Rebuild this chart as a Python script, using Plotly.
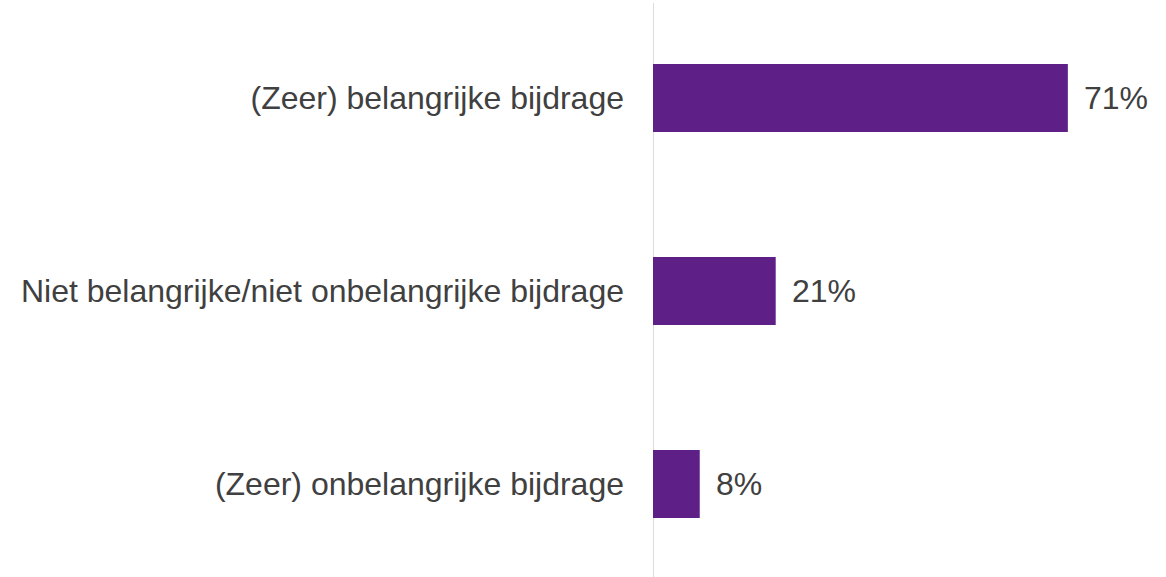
import plotly.graph_objects as go

categories = ["(Zeer) belangrijke bijdrage",
              "Niet belangrijke/niet onbelangrijke bijdrage",
              "(Zeer) onbelangrijke bijdrage"]
values = [71, 21, 8]
labels = ["71%", "21%", "8%"]

FONT = "Liberation Sans, Arial, sans-serif"
TXT = "#404040"

fig = go.Figure()
fig.add_trace(go.Bar(
    x=values, y=categories, orientation="h",
    marker=dict(color="#5E1F86", line=dict(width=0)),
    hoverinfo="skip",
))
for c, v, t in zip(categories, values, labels):
    fig.add_annotation(x=v, y=c, text=t, showarrow=False, xanchor="left",
                       xshift=14, font=dict(family=FONT, size=32, color=TXT))

fig.update_layout(
    width=1166, height=577,
    margin=dict(l=653, r=0, t=0, b=0, autoexpand=False),
    paper_bgcolor="white", plot_bgcolor="white",
    bargap=0.648, showlegend=False,
    font=dict(family=FONT, size=32, color=TXT),
    xaxis=dict(range=[0, 87.8], visible=False, fixedrange=True, automargin=False),
    yaxis=dict(range=[2.482, -0.508], showgrid=False, zeroline=False,
               showline=False, ticks="", ticklabelstandoff=28, automargin=False,
               fixedrange=True, tickfont=dict(family=FONT, size=32, color=TXT)),
    shapes=[dict(type="line", xref="x", yref="paper", x0=0, x1=0, y0=0, y1=0.995,
                 line=dict(color="#DCDCDC", width=2), layer="below")],
)
fig.write_html("out.html", config={"displayModeBar": False},
               post_script="document.body.style.margin='0';document.body.style.overflow='hidden';")
